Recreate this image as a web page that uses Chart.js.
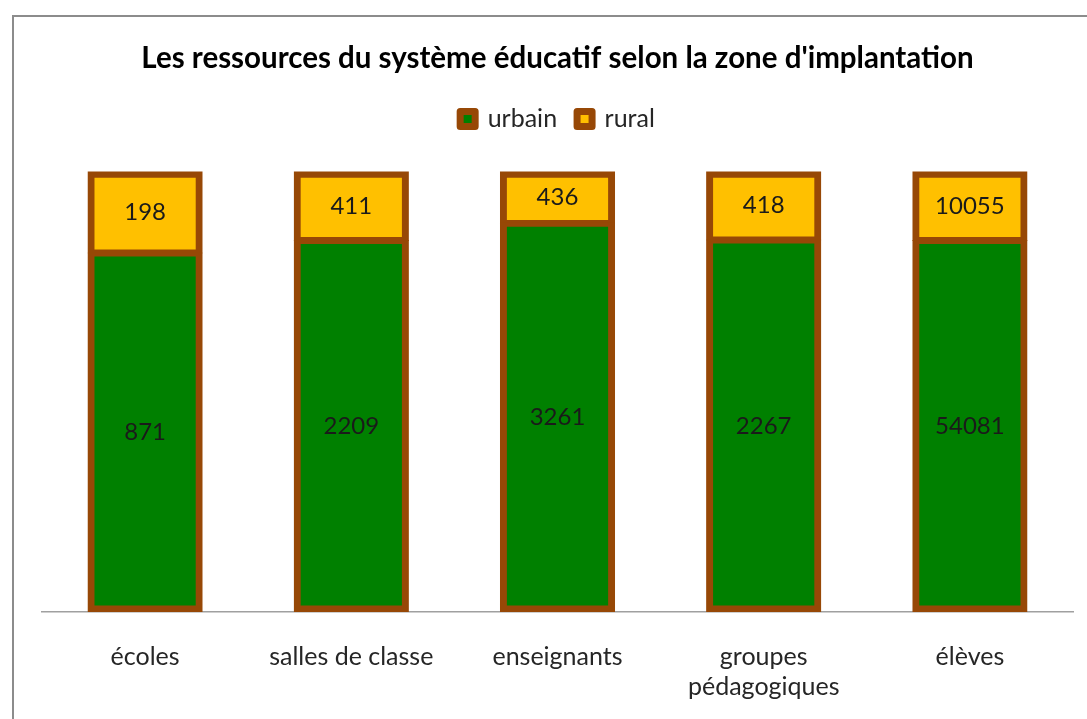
<!DOCTYPE html>
<html><head><meta charset="utf-8">
<script src="https://cdn.jsdelivr.net/npm/chart.js@4"></script>
<style>
html,body{margin:0;padding:0;background:#fff;}
#wrap{position:relative;width:1087px;height:719px;overflow:hidden;}
#frame{position:absolute;left:12px;top:15px;width:1200px;height:900px;border-left:2px solid #8c8c8c;border-top:2px solid #8c8c8c;}
canvas{position:absolute;left:0;top:0;}
</style></head>
<body><div id="wrap"><div id="frame"></div><canvas id="c" width="1087" height="719"></canvas></div>
<script>
const categories = ['écoles', 'salles de classe', 'enseignants', ['groupes', 'pédagogiques'], 'élèves'];
const urbain = [871, 2209, 3261, 2267, 54081];
const rural = [198, 411, 436, 418, 10055];
const seriesNames = ['urbain', 'rural'];
const titleText = "Les ressources du système éducatif selon la zone d'implantation";

const totals = urbain.map((u, i) => u + rural[i]);
const urbainPct = urbain.map((u, i) => u / totals[i] * 100);
const ruralPct = rural.map((r, i) => r / totals[i] * 100);

const BROWN = '#974806';
const FONT = 'Lato';

const labelPlugin = {
  id: 'valueLabels',
  afterDatasetsDraw(chart) {
    const ctx = chart.ctx;
    const raw = [urbain, rural];
    ctx.save();
    ctx.font = '24px ' + FONT;
    ctx.fillStyle = '#1a1a1a';
    ctx.textAlign = 'center';
    ctx.textBaseline = 'middle';
    chart.data.datasets.forEach((ds, di) => {
      const meta = chart.getDatasetMeta(di);
      meta.data.forEach((el, i) => {
        const p = el.getCenterPoint();
        ctx.fillText(String(raw[di][i]), p.x, p.y);
      });
    });
    ctx.restore();
  }
};

const legendSpacer = {
  id: 'legendSpacer',
  beforeInit(chart) {
    const orig = chart.legend.fit;
    chart.legend.fit = function () { orig.call(this); this.height += 30; };
  }
};

new Chart(document.getElementById('c'), {
  type: 'bar',
  data: {
    labels: categories,
    datasets: [
      { label: seriesNames[0], data: urbainPct, backgroundColor: '#008000', borderColor: BROWN,
        borderWidth: {top: 4, left: 7, right: 7, bottom: 7}, borderSkipped: false, inflateAmount: 0.6 },
      { label: seriesNames[1], data: ruralPct, backgroundColor: '#FFC000', borderColor: BROWN,
        borderWidth: {top: 7, left: 7, right: 7, bottom: 4}, borderSkipped: false, inflateAmount: 0.6 }
    ]
  },
  options: {
    responsive: false,
    animation: false,
    devicePixelRatio: 1,
    layout: { padding: { left: 42, right: 14, top: 41, bottom: 0 } },
    datasets: { bar: { categoryPercentage: 1, barPercentage: 0.553 } },
    plugins: {
      title: { display: true, text: titleText, color: '#000', font: { family: FONT, size: 29.5, weight: 'bold' }, padding: { top: 0, bottom: 10 } },
      legend: {
        display: true, position: 'top',
        labels: {
          font: { family: FONT, size: 25 }, color: '#262626',
          boxWidth: 15, boxHeight: 15, padding: 20,
          generateLabels(chart) {
            return chart.data.datasets.map((ds, i) => ({
              text: ds.label, fillStyle: ds.backgroundColor, strokeStyle: BROWN,
              lineWidth: 7, lineJoin: 'round', hidden: false, datasetIndex: i, fontColor: '#262626'
            }));
          }
        }
      },
      tooltip: { enabled: false }
    },
    scales: {
      x: {
        stacked: true,
        grid: { display: false, drawTicks: false },
        border: { display: true, color: '#a0a0a0', width: 1.5 },
        ticks: { font: { family: FONT, size: 25 }, color: '#262626', padding: 30, maxRotation: 0, autoSkip: false },
        afterFit(scale) { scale.height -= 13; }
      },
      y: { stacked: true, display: false, min: 0, max: 100 }
    }
  },
  plugins: [labelPlugin, legendSpacer]
});
</script></body></html>
